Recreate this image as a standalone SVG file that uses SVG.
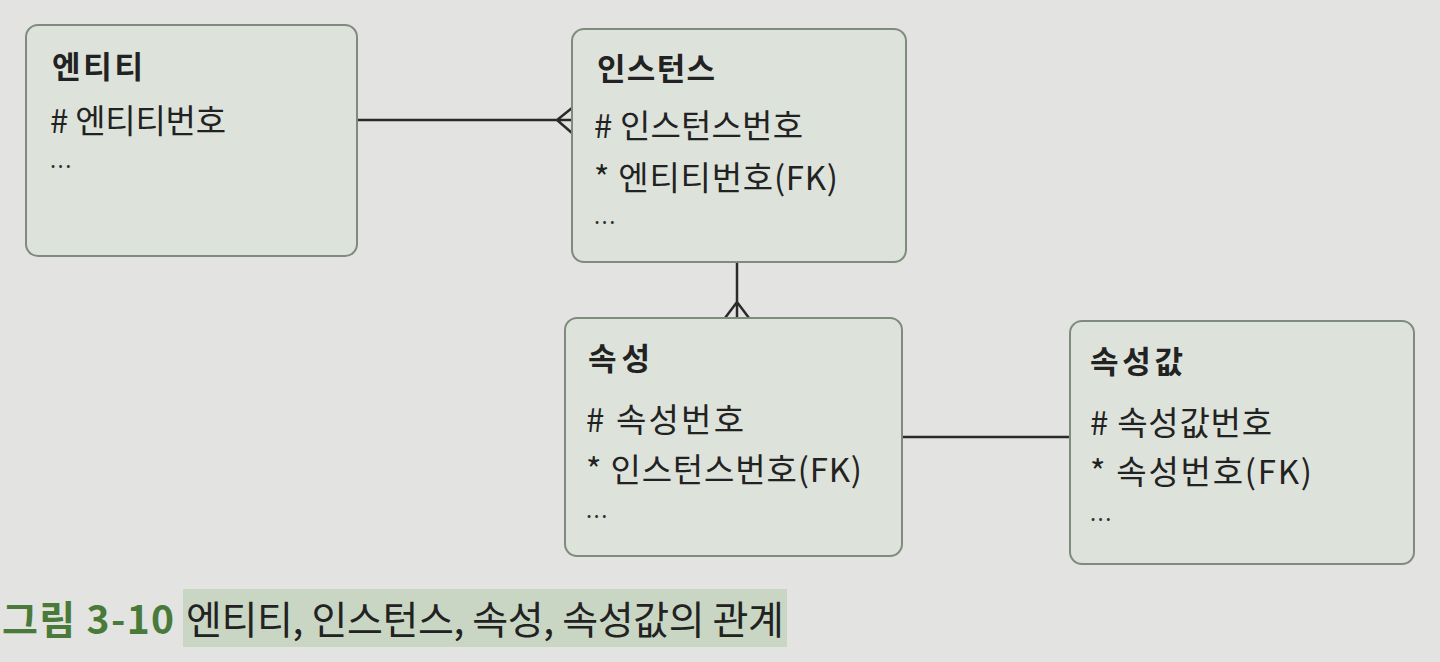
<svg xmlns="http://www.w3.org/2000/svg" width="1440" height="662" viewBox="0 0 1440 662">
<style>
.box{fill:#dde3da;stroke:#7f8c7d;stroke-width:2}
.t{font-family:"Noto Sans CJK KR","Noto Sans",sans-serif;fill:#222;font-size:33px}
.h{font-weight:bold;font-size:31px}
.d{font-family:"Noto Sans CJK KR","Noto Sans",sans-serif;fill:#333;font-size:22px;letter-spacing:1.5px}
.ln{stroke:#2a2a2a;stroke-width:2.5;fill:none}
.cap{font-family:"Noto Sans CJK KR","Noto Sans",sans-serif;font-size:39px}
</style>
<rect width="1440" height="662" fill="#e3e4e1"/>
<g id="connectors">
<path class="ln" d="M358 120 H572 M572 108 L557 120 L572 133"/>
<path class="ln" d="M737 262 V318 M725 318 L737 302 L749 318"/>
<path class="ln" d="M902 437 H1070"/>
</g>
<g id="entity">
<rect class="box" x="26" y="25" width="331" height="231" rx="12"/>
<text class="t h" x="52" y="78" textLength="91">엔티티</text>
<text class="t" x="50" y="133" textLength="176"># 엔티티번호</text>
<text class="d" x="50" y="168">...</text>
</g>
<g id="instance">
<rect class="box" x="572" y="29" width="334" height="233" rx="12"/>
<text class="t h" x="597" y="80" textLength="118">인스턴스</text>
<text class="t" x="594" y="138" textLength="209"># 인스턴스번호</text>
<text class="t" x="594" y="190" textLength="244">* 엔티티번호(FK)</text>
<text class="d" x="594" y="224">...</text>
</g>
<g id="attribute">
<rect class="box" x="565" y="318" width="337" height="238" rx="12"/>
<text class="t h" x="588" y="370" textLength="62">속성</text>
<text class="t" x="586" y="432" textLength="158"># 속성번호</text>
<text class="t" x="586" y="482" textLength="276">* 인스턴스번호(FK)</text>
<text class="d" x="586" y="518">...</text>
</g>
<g id="attrvalue">
<rect class="box" x="1070" y="321" width="344" height="243" rx="12"/>
<text class="t h" x="1090" y="373" textLength="93">속성값</text>
<text class="t" x="1090" y="435" textLength="182"># 속성값번호</text>
<text class="t" x="1090" y="484" textLength="222">* 속성번호(FK)</text>
<text class="d" x="1090" y="521">...</text>
</g>
<g id="caption">
<rect x="183" y="589" width="604" height="58" fill="#c9d6c4"/>
<text class="cap" x="2" y="634" fill="#4a7a3a" font-weight="bold" textLength="172">그림 3-10</text>
<text class="cap" x="186" y="634" fill="#222" textLength="598">엔티티, 인스턴스, 속성, 속성값의 관계</text>
</g>
</svg>
